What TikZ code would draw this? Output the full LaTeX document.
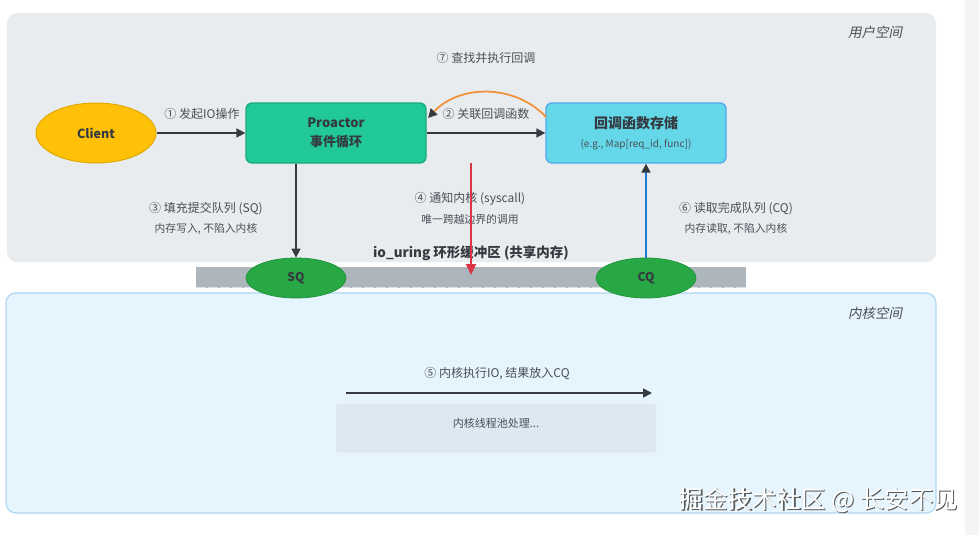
\documentclass[tikz,border=0pt]{standalone}
\usepackage{fontspec}
\setmainfont{Noto Sans CJK SC}
\newfontfamily\slcjk[FakeSlant=0.2]{Noto Sans CJK SC}
\usetikzlibrary{arrows.meta,shapes.geometric}
\definecolor{userbg}{HTML}{E9ECEF}
\definecolor{kernbg}{HTML}{E5F4FD}
\definecolor{kernbd}{HTML}{ADD8F3}
\definecolor{ringc}{HTML}{ADB5BD}
\definecolor{dark}{HTML}{343A40}
\definecolor{txt}{HTML}{495057}
\definecolor{clientc}{HTML}{FFC107}
\definecolor{clientbd}{HTML}{E0A800}
\definecolor{proc}{HTML}{20C997}
\definecolor{procbd}{HTML}{1BA87E}
\definecolor{cbc}{HTML}{64D8E8}
\definecolor{cbbd}{HTML}{4FA8EE}
\definecolor{qc}{HTML}{28A745}
\definecolor{qbd}{HTML}{23963D}
\definecolor{redc}{HTML}{DC3545}
\definecolor{bluec}{HTML}{1E7BD6}
\definecolor{orangec}{HTML}{F0923C}
\definecolor{poolc}{HTML}{DDE8F1}
\definecolor{scrollc}{HTML}{F4F4F4}
\tikzset{
  x=1pt,y=-1pt,
  lbl/.style={font=\fontsize{12}{14}\selectfont,text=txt,inner sep=1pt},
  sublbl/.style={font=\fontsize{10.8}{12}\selectfont,text=txt,inner sep=1pt},
  ar/.style={-{Triangle[length=9pt,width=9pt]},line width=1.6pt,draw=dark},
  boxn/.style={rounded corners=6pt,minimum width=180pt,minimum height=60pt,line width=1.3pt,align=center},
  qn/.style={ellipse,minimum width=100pt,minimum height=40pt,fill=qc,draw=qbd,line width=0.8pt,font=\bfseries\fontsize{12}{14}\selectfont,text=dark}
}
\begin{document}
\begin{tikzpicture}
\useasboundingbox (0,0) rectangle (979,535);
\fill[white] (0,0) rectangle (979,535);
\fill[scrollc] (965,0) rectangle (979,535);
% user space
\fill[userbg,rounded corners=10pt] (7,13) rectangle (936,262);
\node[font=\slcjk\fontsize{13.5}{15}\selectfont,text=txt] (ulab) at (875,32) {用户空间};
% kernel space
\filldraw[fill=kernbg,draw=kernbd,line width=1.2pt,rounded corners=10pt] (6,293) rectangle (936,513);
\node[font=\slcjk\fontsize{13.5}{15}\selectfont,text=txt] (klab) at (875,313) {内核空间};
% ring buffer
\fill[ringc] (196,267) rectangle (746,288);
\draw[white,opacity=0.6,line width=1pt,dash pattern=on 10pt off 2pt] (196,287) -- (746,287);
\node[font=\bfseries\fontsize{13.5}{15}\selectfont,text=dark] (ring) at (471,253) {io\_uring 环形缓冲区 (共享内存)};
% nodes
\node[ellipse,minimum width=120pt,minimum height=60pt,fill=clientc,draw=clientbd,line width=1pt,font=\bfseries\fontsize{12.5}{14}\selectfont,text=dark] (client) at (96,133) {Client};
\node[boxn,fill=proc,draw=procbd,font=\bfseries\fontsize{13}{19}\selectfont,text=dark] (proactor) at (336,133) {Proactor\\事件循环};
\node[boxn,fill=cbc,draw=cbbd] (cb) at (636,133) {};
\node[font=\bfseries\fontsize{14}{16}\selectfont,text=dark] (cbt) at (636,123) {回调函数存储};
\node[font=\fontsize{10}{12}\selectfont,text=txt] (cbs) at (636,145) {(e.g., Map[req\_id, func])};
\node[qn] (sq) at (296,278) {SQ};
\node[qn] (cq) at (646,278) {CQ};
% arrows
\draw[ar] (client.east) -- (proactor.west);
\node[lbl] (l1) at (202,114) {① 发起IO操作};
\draw[ar] (proactor.east) -- (cb.west);
\node[lbl] (l2) at (486,114) {② 关联回调函数};
\coordinate (oa) at (546,117);
\coordinate (ob) at (428,118);
\draw[orangec,line width=1.8pt,-{Triangle[length=9pt,width=9pt,color=dark]}] (oa) .. controls (515,84) and (460,84) .. (ob);
\node[lbl] (l7) at (486,58) {⑦ 查找并执行回调};
\draw[ar] (proactor.south -| sq.north) -- (sq.north);
\node[lbl] (l3) at (206,209) {③ 填充提交队列 (SQ)};
\node[sublbl] (l3b) at (206,229) {内存写入, 不陷入内核};
\coordinate (r1) at (471,163);
\coordinate (r2) at (471,275);
\node[lbl] (l4) at (470,199) {④ 通知内核 (syscall)};
\node[sublbl] (l4b) at (470,219) {唯一跨越边界的调用};
\draw[redc,line width=1.8pt,-{Triangle[length=11pt,width=10pt]}] (r1) -- (r2);
\draw[bluec,line width=1.8pt,-{Triangle[length=9pt,width=9pt,color=dark]}] (cq.north) -- (cq.north |- cb.south);
\node[lbl] (l6) at (736,209) {⑥ 读取完成队列 (CQ)};
\node[sublbl] (l6b) at (736,229) {内存读取, 不陷入内核};
% kernel content
\node[fill=poolc,minimum width=320pt,minimum height=49pt,rounded corners=3pt] (pool) at (496,428) {};
\node[font=\fontsize{11}{13}\selectfont,text=txt] (poolt) at (496,423) {内核线程池处理...};
\coordinate (k1) at (346,393);
\coordinate (k2) at (652,393);
\draw[ar] (k1) -- (k2);
\node[lbl] (l5) at (497,374) {⑤ 内核执行IO, 结果放入CQ};
% watermark
\node[font=\fontsize{24.5}{28}\selectfont,text=gray!70!black] (wm0) at (819.8,501.2) {掘金技术社区 @ 长安不见};
\node[font=\fontsize{24.5}{28}\selectfont,text=white] (wm) at (818.5,500) {掘金技术社区 @ 长安不见};
\end{tikzpicture}
\end{document}
